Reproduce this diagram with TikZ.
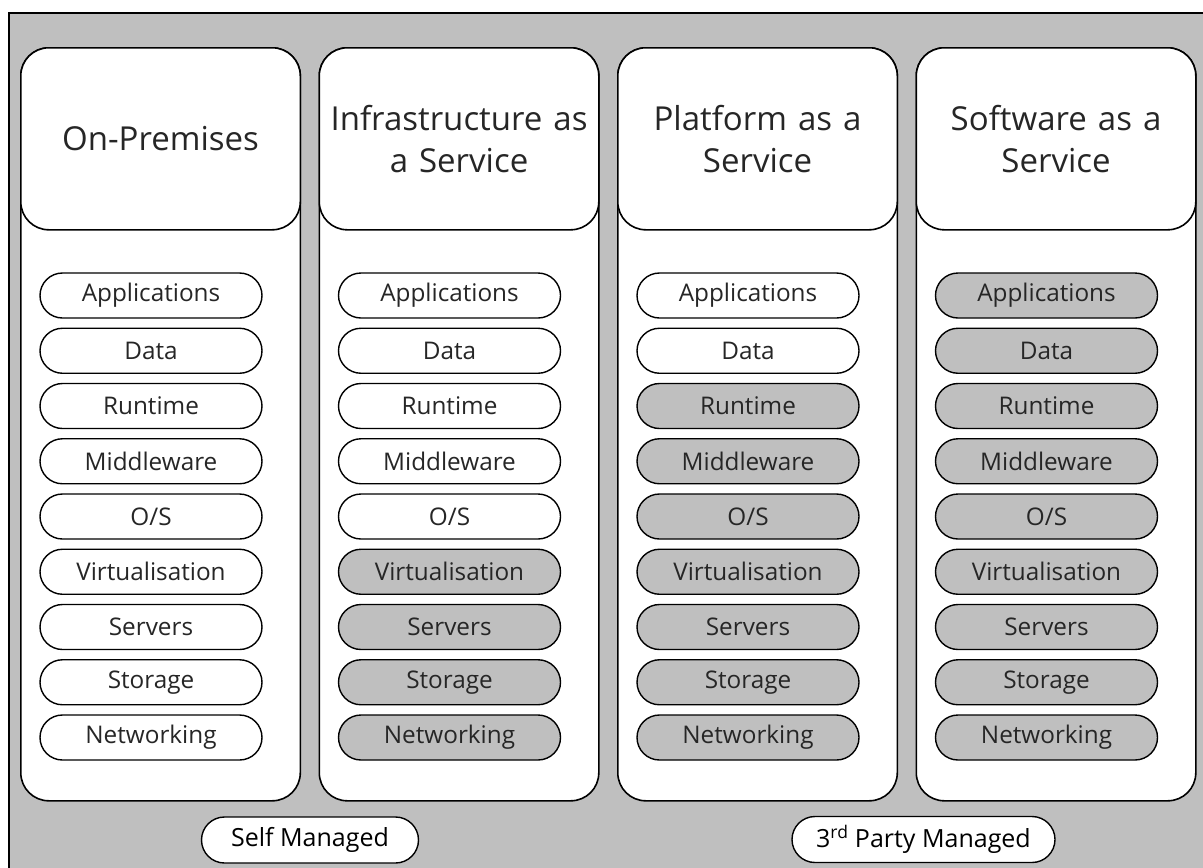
\documentclass[tikz,border=0pt]{standalone}
\usepackage{fontspec}
\setmainfont{Open Sans}
\usetikzlibrary{shapes.misc}
\definecolor{gry}{HTML}{BFBFBF}
\definecolor{ink}{HTML}{262626}
\begin{document}
\begin{tikzpicture}[x=1pt,y=-1pt,
  colbox/.style={draw, line width=1.6pt, fill=white, rounded corners=28pt,
    minimum width=279.5pt, minimum height=753pt, inner sep=0pt},
  headbox/.style={draw, line width=1.6pt, fill=white, rounded corners=28pt,
    minimum width=279.5pt, minimum height=182pt, inner sep=0pt,
    text width=275pt, align=center, text=ink,
    font=\fontsize{33}{42}\selectfont},
  pill/.style={draw, line width=1.4pt, rounded rectangle, inner sep=0pt,
    minimum width=222pt, minimum height=45pt, text=ink,
    font=\fontsize{24.3}{28}\selectfont},
  legend/.style={draw, line width=1.4pt, rounded rectangle, inner sep=0pt,
    fill=white, minimum height=46pt, text=black,
    font=\fontsize{25}{29}\selectfont}]
\useasboundingbox (0,0) rectangle (1203,868);
\clip (0,0) rectangle (1203,868);
\draw[fill=gry, line width=1.6pt] (9,13) rectangle (1230,900);
\foreach \c/\title/\start in {0/On-Premises/9, 1/{Infrastructure as\\ a Service}/5, 2/{Platform as a\\ Service}/2, 3/{Software as a\\ Service}/0} {
  \pgfmathsetmacro\xl{20+298.5*\c}
  \node[colbox, anchor=north west] (col\c) at (\xl,47) {};
  \node[headbox, anchor=north west] (head\c) at (\xl,47) {\title};
  \foreach \lab [count=\i from 0] in {Applications,Data,Runtime,Middleware,O/S,Virtualisation,Servers,Storage,Networking} {
    \pgfmathsetmacro\yc{295.5+55.25*\i}
    \ifnum\i<\start \colorlet{pf}{white}\else\colorlet{pf}{gry}\fi
    \node[pill, fill=pf] (p\c-\i) at (\xl+131,\yc) {\lab};
  }
}
\node[legend, minimum width=217pt] (self) at (310,840) {Self Managed};
\node[legend, minimum width=263pt] (third) at (923.5,839.5) {3\textsuperscript{rd} Party Managed};
\end{tikzpicture}
\end{document}
